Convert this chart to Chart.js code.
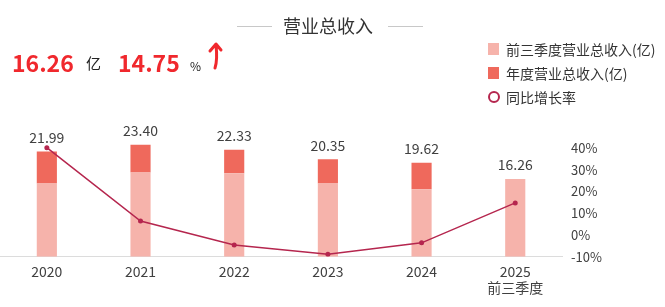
<!DOCTYPE html>
<html>
<head>
<meta charset="utf-8">
<script src="https://cdn.jsdelivr.net/npm/chart.js@4.4.1/dist/chart.umd.min.js"></script>
<style>
  html, body { margin: 0; padding: 0; background: #fff; }
  body { width: 665px; height: 307px; overflow: hidden; position: relative;
    font-family: "Noto Sans CJK SC", "Noto Sans", sans-serif; color: #333; }
  #wrap { position: absolute; left: -4px; top: 0; width: 669px; height: 307px; }
  .abs { position: absolute; white-space: nowrap; }
  .title { left: 283px; top: 12px; font-size: 18px; line-height: 26px; color: #333; }
  .rule { height: 1px; background: #c8c8c8; top: 26px; }
  .big { font-weight: bold; color: #f0282d; font-size: 23px; line-height: 30px; top: 47px; }
  .unit { font-size: 15px; line-height: 20px; color: #222; }
  .lg { font-size: 14px; line-height: 20px; color: #333; left: 506px; }
  .sw { width: 11px; height: 12px; left: 488px; }
</style>
</head>
<body>
<div id="wrap"><canvas id="c" width="669" height="307"></canvas></div>

<div class="abs rule" style="left:237px;width:35px"></div>
<div class="abs title">营业总收入</div>
<div class="abs rule" style="left:388px;width:35px"></div>

<div class="abs big" style="left:12px">16.26</div>
<div class="abs unit" style="left:86px;top:53px">亿</div>
<div class="abs big" style="left:118px">14.75</div>
<div class="abs unit" style="left:190px;top:56px;font-size:12px">%</div>
<svg class="abs" style="left:206px;top:41px" width="20" height="30" viewBox="0 0 20 30">
  <path d="M9 27 C11 21 11 13 10 4 M4 10 L10 3 L15 9" fill="none" stroke="#f0282d" stroke-width="3" stroke-linecap="round" stroke-linejoin="round"/>
</svg>

<div class="abs sw" style="top:43px;background:#f6b3ab"></div>
<div class="abs lg" style="top:39px">前三季度营业总收入(亿)</div>
<div class="abs sw" style="top:67px;background:#ef695c"></div>
<div class="abs lg" style="top:63px">年度营业总收入(亿)</div>
<div class="abs" style="left:488px;top:91px;width:8px;height:8px;border:2px solid #b5264e;border-radius:50%"></div>
<div class="abs lg" style="top:87px">同比增长率</div>

<script>
var years = ["2020", "2021", "2022", "2023", "2024", ["2025", "前三季度"]];
// 前三季度营业总收入 (亿)
var q3Revenue = [15.29, 17.57, 17.43, 15.29, 14.10, 16.26];
// 年度营业总收入 (亿)
var annualRevenue = [21.99, 23.40, 22.33, 20.35, 19.62, null];
// 同比增长率 (%)
var growthRate = [40.1, 6.41, -4.57, -8.87, -3.59, 14.75];
var rateTicks = [-10, 0, 10, 20, 30, 40];

// upper part of the stack: annual minus the first three quarters
var restOfYear = annualRevenue.map(function (v, i) {
  return v == null ? null : +(v - q3Revenue[i]).toFixed(2);
});
var topLabels = annualRevenue.map(function (v, i) {
  return v == null ? q3Revenue[i] : v;
});

var valueLabels = {
  id: "valueLabels",
  afterDatasetsDraw: function (chart) {
    var ctx = chart.ctx;
    var x = chart.scales.x, y = chart.scales.y;
    ctx.save();
    ctx.font = '14px "Noto Sans CJK SC", sans-serif';
    ctx.fillStyle = "#404040";
    ctx.textAlign = "center";
    ctx.textBaseline = "middle";
    topLabels.forEach(function (v, i) {
      ctx.fillText(v.toFixed(2), x.getPixelForValue(i), y.getPixelForValue(v) - 14);
    });
    ctx.restore();
  }
};

new Chart(document.getElementById("c").getContext("2d"), {
  data: {
    labels: years,
    datasets: [
      {
        type: "line",
        label: "同比增长率",
        data: growthRate,
        yAxisID: "y1",
        borderColor: "#b5264e",
        backgroundColor: "#b5264e",
        borderWidth: 1.5,
        pointRadius: 2.5,
        pointBorderWidth: 0,
        tension: 0,
        order: 0
      },
      {
        type: "bar",
        label: "前三季度营业总收入(亿)",
        data: q3Revenue,
        yAxisID: "y",
        stack: "rev",
        backgroundColor: "#f6b3ab",
        barPercentage: 0.43,
        categoryPercentage: 0.5,
        order: 1
      },
      {
        type: "bar",
        label: "年度营业总收入(亿)",
        data: restOfYear,
        yAxisID: "y",
        stack: "rev",
        backgroundColor: "#ef695c",
        barPercentage: 0.43,
        categoryPercentage: 0.5,
        order: 1
      }
    ]
  },
  options: {
    responsive: false,
    animation: false,
    layout: { padding: { top: 137, right: 54, bottom: 4, left: 0 } },
    scales: {
      x: {
        stacked: true,
        grid: { display: false, drawTicks: false },
        border: { color: "#dcdcdc" },
        ticks: {
          color: "#404040",
          padding: 7,
          font: { family: '"Noto Sans CJK SC", sans-serif', size: 14, lineHeight: 1.15 }
        }
      },
      y: {
        display: false,
        stacked: true,
        min: 0,
        max: 25
      },
      y1: {
        position: "right",
        min: -10,
        max: 45,
        grid: { display: false, drawTicks: false },
        border: { display: false },
        afterBuildTicks: function (axis) {
          axis.ticks = rateTicks.map(function (v) { return { value: v }; });
        },
        ticks: {
          color: "#404040",
          padding: 9,
          font: { family: '"Noto Sans CJK SC", sans-serif', size: 13 },
          callback: function (v) { return v + "%"; }
        }
      }
    },
    plugins: {
      legend: { display: false },
      tooltip: { enabled: false }
    }
  },
  plugins: [valueLabels]
});
</script>
</body>
</html>
